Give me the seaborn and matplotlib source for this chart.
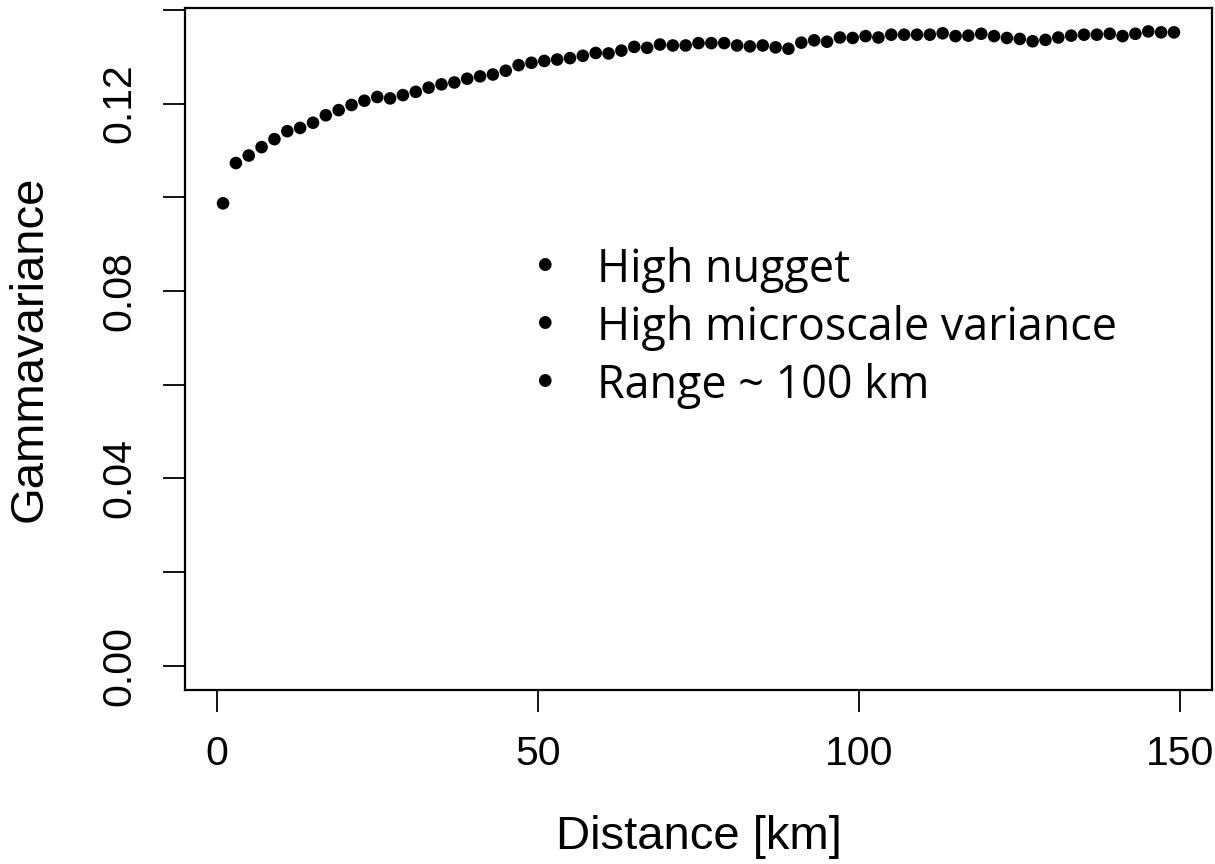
import matplotlib
matplotlib.use("Agg")
import matplotlib.pyplot as plt
import seaborn as sns
import numpy as np
import pandas as pd

# Data
distance_km = list(range(1, 150, 2))
gammavariance = [
    0.0987, 0.1073, 0.1089, 0.1107, 0.1124, 0.1141, 0.1148, 0.1159, 0.1175, 0.1186,
    0.1197, 0.1206, 0.1214, 0.1211, 0.1218, 0.1225, 0.1234, 0.1241, 0.1245, 0.1253,
    0.1258, 0.1262, 0.1270, 0.1282, 0.1287, 0.1291, 0.1294, 0.1297, 0.1302, 0.1308,
    0.1307, 0.1313, 0.1321, 0.1319, 0.1326, 0.1324, 0.1324, 0.1329, 0.1329, 0.1329,
    0.1324, 0.1322, 0.1324, 0.1320, 0.1317, 0.1330, 0.1335, 0.1332, 0.1341, 0.1340,
    0.1344, 0.1341, 0.1347, 0.1347, 0.1347, 0.1347, 0.1350, 0.1344, 0.1345, 0.1349,
    0.1344, 0.1340, 0.1338, 0.1333, 0.1336, 0.1341, 0.1345, 0.1347, 0.1347, 0.1349,
    0.1344, 0.1349, 0.1354, 0.1352, 0.1352,
]
x_ticks = [0, 50, 100, 150]
y_ticks = [0.00, 0.02, 0.04, 0.06, 0.08, 0.10, 0.12, 0.14]
y_tick_labels = ["0.00", "", "0.04", "", "0.08", "", "0.12", ""]
notes = ["High nugget", "High microscale variance", "Range ~ 100 km"]

df = pd.DataFrame({"Distance": distance_km, "Gamma": gammavariance})

sns.set_style("ticks")
plt.rcParams["font.family"] = ["Liberation Sans", "DejaVu Sans"]
plt.rcParams["text.color"] = "black"
plt.rcParams["axes.labelcolor"] = "black"
plt.rcParams["xtick.color"] = "black"
plt.rcParams["ytick.color"] = "black"

fig = plt.figure(figsize=(12.15, 8.64), dpi=100)
ax = fig.add_axes([185 / 1215, 1 - 690 / 864, 1027 / 1215, 682 / 864])

sns.scatterplot(data=df, x="Distance", y="Gamma", ax=ax, color="black",
                s=82, edgecolor="none", linewidth=0, legend=False)

ax.set_xlim(-4.92, 154.92)
ax.set_ylim(-0.0052, 0.1404)
ax.set_xticks(x_ticks)
ax.set_xticklabels([str(t) for t in x_ticks])
ax.set_yticks(y_ticks)
ax.set_yticklabels(y_tick_labels, rotation=90, va="center")

for sp in ax.spines.values():
    sp.set_visible(True)
    sp.set_linewidth(1.6)
    sp.set_color("black")

ax.tick_params(axis="both", direction="out", length=15.5, width=1.3,
               colors="black", labelsize=29.5)
ax.tick_params(axis="x", pad=17)
ax.tick_params(axis="y", pad=18)

ax.set_xlabel("Distance [km]", fontsize=34, labelpad=30)
ax.set_ylabel("Gammavariance", fontsize=34, labelpad=35)

base_y = [0.5977, 0.5133, 0.4288]
bullet_y = [0.624, 0.5396, 0.4551]
for txt, yb, yt in zip(notes, bullet_y, base_y):
    ax.text(0.3496, yb, "\u25CF", transform=ax.transAxes, fontsize=12,
            family=["DejaVu Sans"], ha="center", va="center", color="black")
    ax.text(0.4015, yt, txt, transform=ax.transAxes, fontsize=32.3,
            family=["Open Sans", "DejaVu Sans"], ha="left", va="baseline",
            color="black")

fig.savefig("out.png", dpi=100, facecolor="white")
